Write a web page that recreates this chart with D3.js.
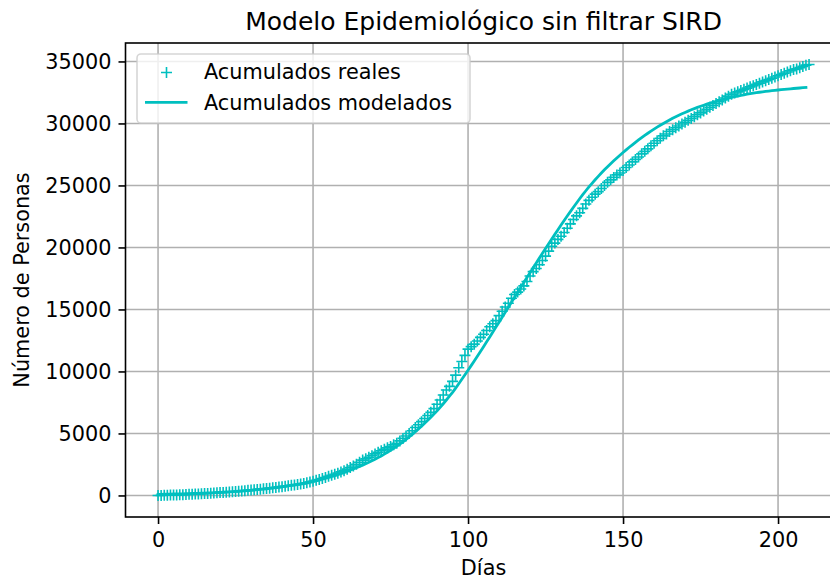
<!DOCTYPE html>
<html>
<head>
<meta charset="utf-8">
<script src="https://cdn.jsdelivr.net/npm/d3@7"></script>
<style>
  html, body { margin: 0; padding: 0; background: #ffffff; }
  svg { display: block; font-family: "DejaVu Sans", sans-serif; }
</style>
</head>
<body>
<svg id="chart" width="830" height="579"></svg>
<script>
// Cumulative confirmed cases, one value per day starting at day 0
const acumuladosReales = [
  0, 5, 12, 20, 28, 37, 46, 56, 66, 77,
  88, 100, 112, 125, 138, 152, 166, 181, 197, 213,
  230, 247, 265, 284, 303, 323, 344, 365, 387, 410,
  433, 457, 482, 508, 534, 561, 589, 618, 648, 679,
  711, 744, 778, 813, 849, 886, 924, 970, 1020, 1080,
  1150, 1220, 1290, 1370, 1450, 1540, 1620, 1710, 1800, 1900,
  2000, 2120, 2250, 2380, 2520, 2680, 2850, 2960, 3080, 3210,
  3350, 3480, 3600, 3720, 3840, 3950, 4080, 4210, 4400, 4600,
  4800, 5000, 5220, 5480, 5700, 5950, 6200, 6450, 6700, 7000,
  7350, 7700, 8100, 8500, 8800, 9200, 9700, 10300, 10800, 11300,
  11800, 12000, 12200, 12450, 12750, 13000, 13300, 13600, 13850, 14100,
  14500, 14850, 15200, 15500, 15900, 16200, 16400, 16650, 16900, 17250,
  17700, 18050, 18300, 18600, 18950, 19300, 19700, 20100, 20350, 20650,
  20900, 21200, 21550, 21900, 22250, 22550, 22800, 23150, 23500, 23800,
  24050, 24300, 24500, 24750, 25000, 25250, 25450, 25650, 25850, 26000,
  26200, 26450, 26650, 26900, 27100, 27300, 27550, 27750, 27950, 28200,
  28400, 28600, 28800, 29000, 29150, 29350, 29500, 29650, 29800, 29950,
  30100, 30250, 30400, 30550, 30700, 30850, 31000, 31150, 31300, 31450,
  31600, 31750, 31900, 32050, 32200, 32350, 32450, 32550, 32650, 32750,
  32850, 32950, 33050, 33150, 33250, 33350, 33450, 33550, 33650, 33750,
  33850, 33950, 34050, 34150, 34250, 34350, 34400, 34500, 34600, 34700,
  34750
];

// SIRD model output: cumulative cases (I + R + D), one value per day
const acumuladosModelados = [
  90, 95, 100, 105, 110, 116, 122, 128, 135, 142,
  150, 158, 166, 175, 184, 194, 204, 215, 226, 238,
  250, 263, 277, 291, 306, 322, 339, 357, 376, 396,
  417, 439, 462, 486, 512, 539, 567, 597, 628, 661,
  696, 732, 770, 810, 852, 896, 942, 990, 1040, 1093,
  1148, 1205, 1265, 1327, 1392, 1460, 1530, 1603, 1680, 1760,
  1843, 1935, 2030, 2128, 2230, 2335, 2444, 2557, 2673, 2793,
  2918, 3050, 3188, 3332, 3482, 3638, 3800, 3968, 4143, 4324,
  4511, 4715, 4925, 5140, 5361, 5588, 5822, 6062, 6308, 6561,
  6820, 7105, 7397, 7696, 8002, 8315, 8660, 9010, 9370, 9730,
  10100, 10472, 10848, 11228, 11612, 12000, 12391, 12784, 13179, 13576,
  13975, 14375, 14775, 15175, 15575, 15975, 16375, 16774, 17172, 17568,
  17963, 18357, 18749, 19139, 19527, 19913, 20297, 20678, 21056, 21431,
  21803, 22170, 22532, 22889, 23241, 23588, 23927, 24255, 24572, 24878,
  25173, 25458, 25734, 26001, 26259, 26508, 26750, 26986, 27216, 27440,
  27658, 27870, 28077, 28279, 28476, 28668, 28855, 29036, 29211, 29380,
  29543, 29700, 29852, 29999, 30141, 30278, 30410, 30537, 30659, 30776,
  30888, 30996, 31100, 31199, 31294, 31384, 31470, 31553, 31632, 31707,
  31779, 31848, 31914, 31978, 32040, 32099, 32155, 32209, 32260, 32309,
  32355, 32399, 32440, 32479, 32516, 32550, 32582, 32613, 32642, 32670,
  32697, 32723, 32748, 32772, 32795, 32817, 32839, 32860, 32881, 32901
];

const xTicks = [0, 50, 100, 150, 200];
const yTicks = [0, 5000, 10000, 15000, 20000, 25000, 30000, 35000];

const titulo = "Modelo Epidemiológico sin filtrar SIRD";
const etiquetaX = "Días";
const etiquetaY = "Número de Personas";
const leyenda = ["Acumulados reales", "Acumulados modelados"];

const color = "#00bfbf";
const fontSize = 20.8;

const svg = d3.select("#chart");
const W = 830, H = 579;
svg.append("rect").attr("width", W).attr("height", H).attr("fill", "#ffffff");

// Axes box (right edge runs past the canvas)
const plot = { left: 125.5, right: 841.6, top: 43, bottom: 517 };

const realPts = acumuladosReales.map((v, i) => ({ d: i, v }));
const modelPts = acumuladosModelados.map((v, i) => ({ d: i, v }));

// 5% margins on both axes
const xExt = [0, d3.max(realPts, p => p.d)];
const xPad = (xExt[1] - xExt[0]) * 0.05;
const yMax = d3.max([d3.max(acumuladosReales), d3.max(acumuladosModelados)]);
const yMin = d3.min([d3.min(acumuladosReales), d3.min(acumuladosModelados)]);
const yPad = (yMax - yMin) * 0.05;

const x = d3.scaleLinear().domain([xExt[0] - xPad, xExt[1] + xPad]).range([plot.left, plot.right]);
const y = d3.scaleLinear().domain([yMin - yPad, yMax + yPad]).range([plot.bottom, plot.top]);

// Grid
const grid = svg.append("g").attr("stroke", "#b0b0b0").attr("stroke-width", 1.6);
grid.selectAll("line.gx").data(xTicks).join("line")
  .attr("x1", d => x(d)).attr("x2", d => x(d))
  .attr("y1", plot.top).attr("y2", plot.bottom);
grid.selectAll("line.gy").data(yTicks).join("line")
  .attr("x1", plot.left).attr("x2", plot.right)
  .attr("y1", d => y(d)).attr("y2", d => y(d));

// Clip to axes area
svg.append("clipPath").attr("id", "clip").append("rect")
  .attr("x", plot.left).attr("y", plot.top)
  .attr("width", plot.right - plot.left).attr("height", plot.bottom - plot.top);

const data = svg.append("g").attr("clip-path", "url(#clip)");

// "+" markers for reported data
const ms = 5.5;
const plusPath = `M${-ms},0H${ms}M0,${-ms}V${ms}`;
data.append("g")
  .selectAll("path").data(realPts).join("path")
  .attr("d", plusPath)
  .attr("transform", p => `translate(${x(p.d)},${y(p.v)})`)
  .attr("fill", "none").attr("stroke", color).attr("stroke-width", 1.6);

// Model curve
const line = d3.line().x(p => x(p.d)).y(p => y(p.v));
data.append("path").datum(modelPts)
  .attr("d", line)
  .attr("fill", "none").attr("stroke", color).attr("stroke-width", 2.8)
  .attr("stroke-linejoin", "round").attr("stroke-linecap", "square");

// Spines
const spines = svg.append("g").attr("stroke", "#000").attr("stroke-width", 1.6).attr("fill", "none");
spines.append("rect")
  .attr("x", plot.left).attr("y", plot.top)
  .attr("width", plot.right - plot.left).attr("height", plot.bottom - plot.top);

// Axes
const xAxis = d3.axisBottom(x).tickValues(xTicks).tickSize(7).tickPadding(7).tickSizeOuter(0);
const yAxis = d3.axisLeft(y).tickValues(yTicks).tickSize(7).tickPadding(7).tickSizeOuter(0)
  .tickFormat(d3.format("d"));

const gx = svg.append("g").attr("transform", `translate(0,${plot.bottom})`).call(xAxis);
const gy = svg.append("g").attr("transform", `translate(${plot.left},0)`).call(yAxis);
[gx, gy].forEach(g => {
  g.select(".domain").remove();
  g.selectAll(".tick line").attr("stroke", "#000").attr("stroke-width", 1.6);
  g.selectAll(".tick text").attr("fill", "#000")
    .attr("font-family", "DejaVu Sans").attr("font-size", fontSize);
});
gx.selectAll(".tick text").attr("dy", "0.76em");
gy.selectAll(".tick text").attr("dy", "0.35em");

// Title and axis labels
svg.append("text")
  .attr("x", (plot.left + plot.right) / 2).attr("y", 30)
  .attr("text-anchor", "middle").attr("font-size", 25).attr("fill", "#000")
  .text(titulo);

svg.append("text")
  .attr("x", (plot.left + plot.right) / 2).attr("y", 575)
  .attr("text-anchor", "middle").attr("font-size", fontSize).attr("fill", "#000")
  .text(etiquetaX);

svg.append("text")
  .attr("transform", `translate(29,${(plot.top + plot.bottom) / 2}) rotate(-90)`)
  .attr("text-anchor", "middle").attr("font-size", fontSize).attr("fill", "#000")
  .text(etiquetaY);

// Legend
const lg = svg.append("g");
lg.append("rect")
  .attr("x", 137).attr("y", 54).attr("width", 333).attr("height", 69)
  .attr("rx", 4).attr("ry", 4)
  .attr("fill", "rgba(255,255,255,0.8)")
  .attr("stroke", "rgba(204,204,204,0.8)").attr("stroke-width", 1.6);
lg.append("path")
  .attr("d", plusPath)
  .attr("transform", "translate(166.5,72.5)")
  .attr("fill", "none").attr("stroke", color).attr("stroke-width", 1.6);
lg.append("line")
  .attr("x1", 145).attr("x2", 187.5).attr("y1", 102.3).attr("y2", 102.3)
  .attr("stroke", color).attr("stroke-width", 2.8);
lg.selectAll("text").data(leyenda).join("text")
  .attr("x", 204).attr("y", (d, i) => 78.5 + i * 31)
  .attr("font-size", fontSize).attr("fill", "#000")
  .text(d => d);
</script>
</body>
</html>
